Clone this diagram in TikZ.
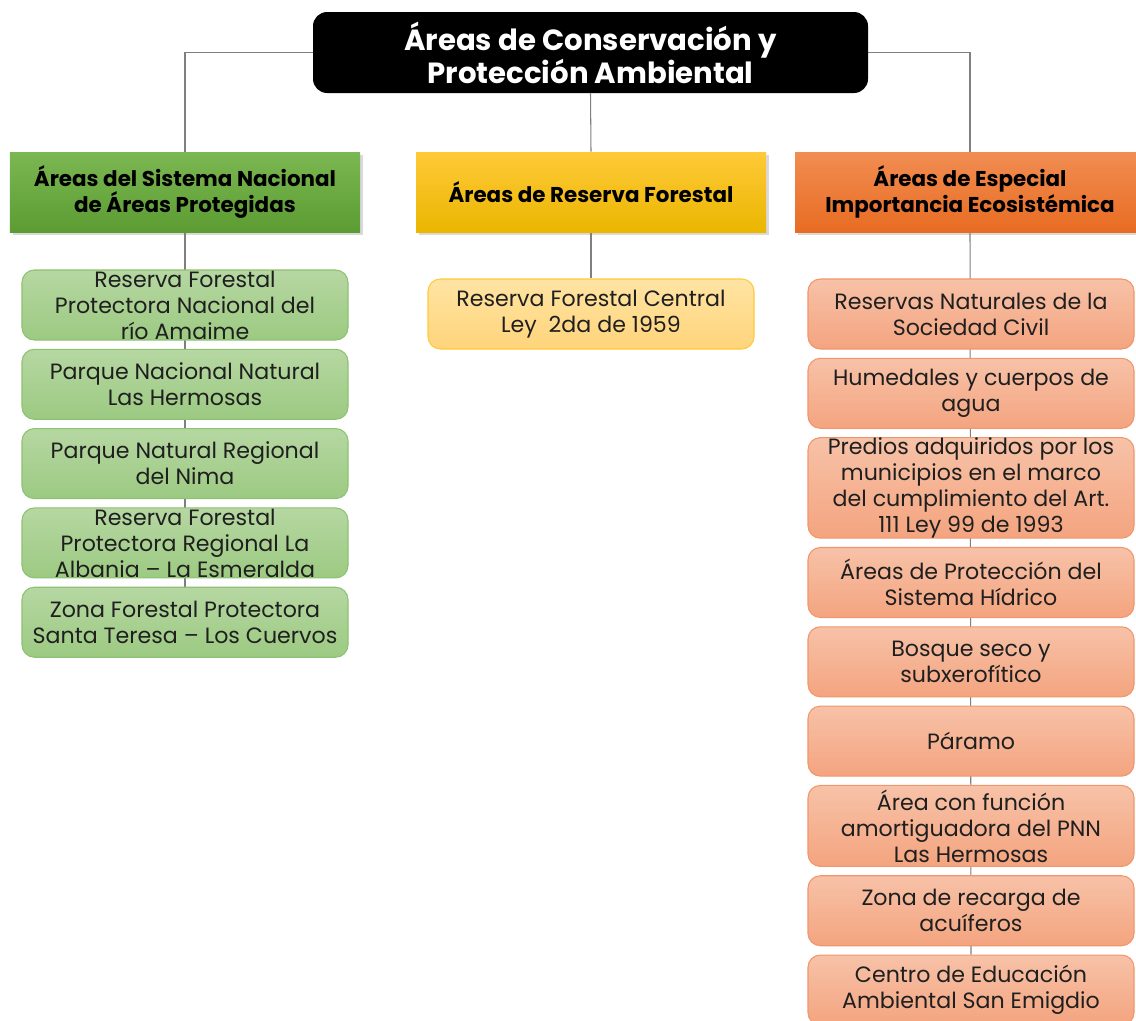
\documentclass[tikz,border=0pt]{standalone}
\usepackage{fontspec}
\setmainfont{Poppins}
\usetikzlibrary{positioning,backgrounds,shadows}

\definecolor{headgreenA}{HTML}{7BB752}
\definecolor{headgreenB}{HTML}{5C9C32}
\definecolor{headgoldA}{HTML}{FFCA38}
\definecolor{headgoldB}{HTML}{EAB600}
\definecolor{headorangeA}{HTML}{F18D52}
\definecolor{headorangeB}{HTML}{E86C22}
\definecolor{itemgreenA}{HTML}{B6D7A2}
\definecolor{itemgreenB}{HTML}{9CCA82}
\definecolor{itemgreenE}{HTML}{8EC270}
\definecolor{itemgoldA}{HTML}{FFE4A3}
\definecolor{itemgoldB}{HTML}{FFD47B}
\definecolor{itemgoldE}{HTML}{FFC93C}
\definecolor{itemorangeA}{HTML}{F7C2A8}
\definecolor{itemorangeB}{HTML}{F4A47F}
\definecolor{itemorangeE}{HTML}{F1966C}
\definecolor{linkgray}{HTML}{7F7F7F}

\begin{document}
\begin{tikzpicture}[
  font=\fontsize{12.6}{14.8}\selectfont,
  node distance=1.65mm,
  titlebox/.style={fill=black, rounded corners=8pt, text=white, align=center, minimum width=11.1cm, minimum height=1.62cm, font=\fontsize{16.6}{18.7}\selectfont\bfseries},
  head/.style={align=center, minimum width=7cm, minimum height=1.6cm, font=\fontsize{12.2}{14.7}\selectfont\bfseries, drop shadow={opacity=0.3, shadow xshift=0.6mm, shadow yshift=-0.6mm}},
  item/.style={rounded corners=7pt, align=center, minimum width=6.52cm, minimum height=1.4cm, inner ysep=0pt, line width=0.6pt, text=black!88},
  greenitem/.style={item, draw=itemgreenE, top color=itemgreenA, bottom color=itemgreenB},
  golditem/.style={item, draw=itemgoldE, top color=itemgoldA, bottom color=itemgoldB},
  orangeitem/.style={item, draw=itemorangeE, top color=itemorangeA, bottom color=itemorangeB},
  link/.style={draw=linkgray, line width=0.6pt}
]
\useasboundingbox (0,0) rectangle (22.72,-20.4);

\node[titlebox] (top) at (11.81,-1.05) {Áreas de Conservación y\\Protección Ambiental};

\node[head, top color=headgreenA, bottom color=headgreenB] (sinap) at (3.7,-3.84) {Áreas del Sistema Nacional\\de Áreas Protegidas};
\node[head, top color=headgoldA, bottom color=headgoldB] (forestal) at (11.82,-3.84) {Áreas de Reserva Forestal};
\node[head, top color=headorangeA, bottom color=headorangeB] (especial) at (19.4,-3.84) {Áreas de Especial\\Importancia Ecosistémica};

\node[greenitem] (amaime) at (3.7,-6.1) {Reserva Forestal\\Protectora Nacional del\\río Amaime};
\node[greenitem, below=of amaime] (hermosas) {Parque Nacional Natural\\Las Hermosas};
\node[greenitem, below=of hermosas] (nima) {Parque Natural Regional\\del Nima};
\node[greenitem, below=of nima] (albania) {Reserva Forestal\\Protectora Regional La\\Albania – La Esmeralda};
\node[greenitem, below=of albania] (teresa) {Zona Forestal Protectora\\Santa Teresa – Los Cuervos};

\node[golditem] (central) at (11.82,-6.28) {Reserva Forestal Central\\Ley\ \ 2da de 1959};

\node[orangeitem] (civil) at (19.42,-6.28) {Reservas Naturales de la\\Sociedad Civil};
\node[orangeitem, below=of civil] (humedales) {Humedales y cuerpos de\\agua};
\node[orangeitem, below=of humedales] (predios) {Predios adquiridos por los\\municipios en el marco\\del cumplimiento del Art.\\111 Ley 99 de 1993};
\node[orangeitem, below=of predios] (hidrico) {Áreas de Protección del\\Sistema Hídrico};
\node[orangeitem, below=of hidrico] (bosque) {Bosque seco y\\subxerofítico};
\node[orangeitem, below=of bosque] (paramo) {Páramo};
\node[orangeitem, minimum height=1.62cm, below=of paramo] (amortiguadora) {Área con función\\amortiguadora del PNN\\Las Hermosas};
\node[orangeitem, below=of amortiguadora] (acuiferos) {Zona de recarga de\\acuíferos};
\node[orangeitem, below=of acuiferos] (emigdio) {Centro de Educación\\Ambiental San Emigdio};

\begin{scope}[on background layer]
\draw[link] (top.west) -| (sinap.north);
\draw[link] (top.south) -- (forestal.north);
\draw[link] (top.east) -| (especial.north);
\draw[link] (sinap.south) -- (teresa.north);
\draw[link] (forestal.south) -- (central.north);
\draw[link] (especial.south) -- (emigdio.north);
\end{scope}
\end{tikzpicture}
\end{document}
